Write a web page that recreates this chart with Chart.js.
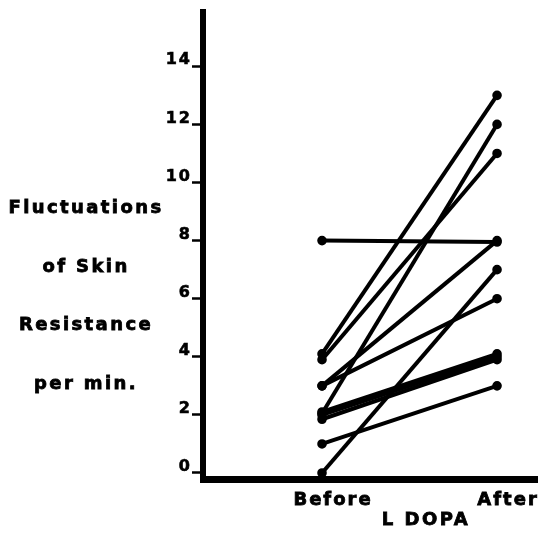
<!DOCTYPE html>
<html lang="en">
<head>
    <meta charset="UTF-8">
    <title>Fluctuations of Skin Resistance - L DOPA</title>
    <script src="https://cdn.jsdelivr.net/npm/chart.js"></script>
    <style>
        body {
            margin: 0;
            background: #fff;
            overflow: hidden;
        }
        canvas {
            display: block;
        }
    </style>
</head>
<body>
    <canvas id="dopaChart" width="538" height="536"></canvas>

    <script>
        // Dữ liệu
        const categories = ['Before', 'After'];
        const beforeValues = [8, 4.1, 3.9, 3, 3, 2.05, 2.1, 2.0, 1.85, 1, 0];
        const afterValues  = [7.95, 13, 11, 8, 6, 12, 4.1, 4.0, 3.9, 3, 7];
        const yTicks = [0, 2, 4, 6, 8, 10, 12, 14];
        const yTitleLines = ['Fluctuations', 'of Skin', 'Resistance', 'per min.'];
        const xTitle = 'L DOPA';

        const datasets = beforeValues.map((b, i) => ({
            data: [{ x: 0, y: b }, { x: 1, y: afterValues[i] }],
            borderColor: '#000',
            backgroundColor: '#000',
            borderWidth: 4,
            pointRadius: 2.8,
            pointHoverRadius: 2.8,
            tension: 0
        }));

        // chữ thêm: tiêu đề trục tung và trục hoành
        const extraText = {
            id: 'extraText',
            beforeDraw(chart) {
                chart.ctx.letterSpacing = '2px';
            },
            afterDraw(chart) {
                const ctx = chart.ctx;
                ctx.save();
                ctx.fillStyle = '#000';
                ctx.strokeStyle = '#000';
                ctx.lineWidth = 0.8;
                ctx.textAlign = 'center';
                ctx.textBaseline = 'alphabetic';
                ctx.font = 'bold 18px "DejaVu Sans"';
                ctx.letterSpacing = '2.4px';
                const baselines = [213, 272, 330, 389];
                yTitleLines.forEach((t, i) => {
                    ctx.fillText(t, 86, baselines[i]);
                    ctx.strokeText(t, 86, baselines[i]);
                });
                ctx.letterSpacing = '2.5px';
                ctx.fillText(xTitle, 426, 525);
                ctx.strokeText(xTitle, 426, 525);
                ctx.restore();
                ctx.letterSpacing = '0px';
            }
        };

        new Chart(document.getElementById('dopaChart'), {
            type: 'line',
            data: { datasets: datasets },
            options: {
                responsive: false,
                animation: false,
                layout: {
                    autoPadding: false,
                    padding: { top: 12, right: 0, left: 0, bottom: 0 }
                },
                plugins: {
                    legend: { display: false },
                    tooltip: { enabled: false }
                },
                scales: {
                    x: {
                        type: 'linear',
                        min: -0.68,
                        max: 1.234,
                        afterBuildTicks: s => { s.ticks = categories.map((c, i) => ({ value: i })); },
                        afterFit: s => {
                            s.height = 56.5;
                            s.paddingLeft = 0;
                            s.paddingRight = 0;
                        },
                        ticks: {
                            callback: v => categories[v],
                            color: '#000',
                            font: { family: 'DejaVu Sans', size: 18, weight: 'bold' },
                            textStrokeColor: '#000',
                            textStrokeWidth: 0.8,
                            padding: 2,
                            labelOffset: 11,
                            maxRotation: 0,
                            autoSkip: false
                        },
                        grid: { display: false },
                        border: { display: true, color: '#000', width: 7 }
                    },
                    y: {
                        min: -0.224,
                        max: 15.87,
                        afterBuildTicks: s => { s.ticks = yTicks.map(v => ({ value: v })); },
                        afterFit: s => {
                            s.width = 203;
                            s.paddingTop = 0;
                            s.paddingBottom = 0;
                        },
                        ticks: {
                            color: '#000',
                            font: { family: 'DejaVu Sans', size: 16, weight: 'bold' },
                            textStrokeColor: '#000',
                            textStrokeWidth: 0.6,
                            padding: 0,
                            labelOffset: -6
                        },
                        grid: {
                            drawOnChartArea: false,
                            drawTicks: true,
                            tickLength: 11,
                            tickWidth: 2.5,
                            tickColor: '#000'
                        },
                        border: { display: true, color: '#000', width: 6 }
                    }
                }
            },
            plugins: [extraText]
        });
    </script>
</body>
</html>
